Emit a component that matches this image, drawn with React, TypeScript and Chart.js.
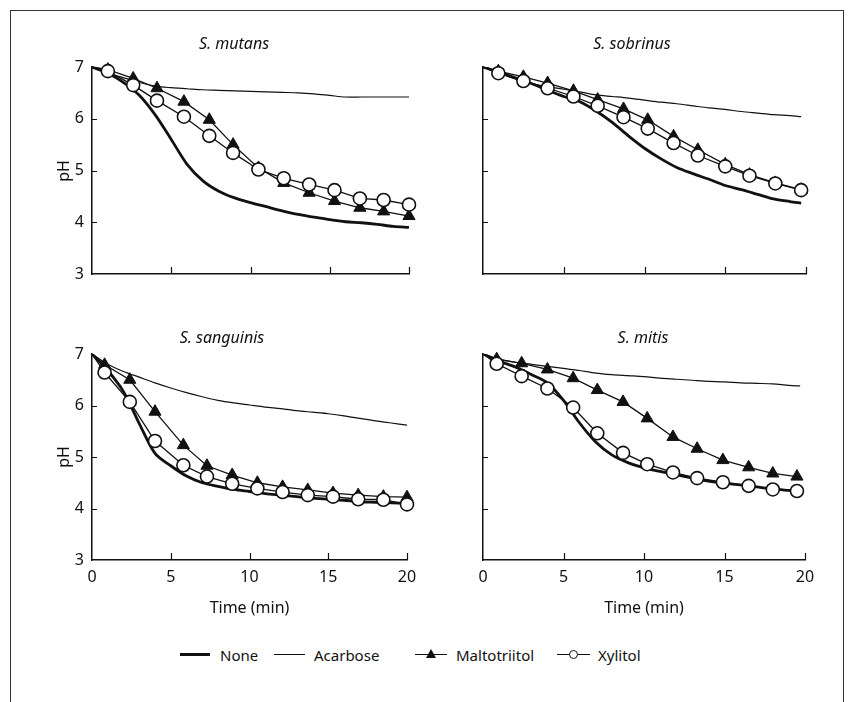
import React, { useEffect, useRef } from 'react';
import { Chart, registerables } from 'chart.js';

Chart.register(...registerables);

// ---------- data ----------
const lineTimeLeft = [0, 1, 2, 3, 4, 5, 6, 7, 8, 9, 10, 11, 12, 13, 14, 15, 16, 17, 18, 19, 20];
const lineTimeRight = [0, 1, 2, 3, 4, 5, 6, 7, 8, 9, 10, 11, 12, 13, 14, 15, 16, 17, 18, 19, 19.7];

const xTickValues = [5, 10, 15, 20];
const yTickValues = [4, 5, 6];

const seriesNames = ['None', 'Acarbose', 'Maltotriitol', 'Xylitol'];

// S. mutans
const mutansMarkerTime = [0, 1.0, 2.6, 4.1, 5.8, 7.4, 8.9, 10.5, 12.1, 13.7, 15.3, 16.9, 18.4, 20.0];
const mutansXylitol = [7, 6.92, 6.65, 6.35, 6.04, 5.67, 5.34, 5.02, 4.85, 4.73, 4.62, 4.46, 4.43, 4.34];
const mutansMaltotriitol = [7, 6.95, 6.78, 6.59, 6.33, 5.98, 5.5, 5.05, 4.76, 4.57, 4.41, 4.28, 4.21, 4.12];
const mutansNone = [7.0, 6.88, 6.7, 6.45, 6.07, 5.6, 5.12, 4.8, 4.6, 4.47, 4.38, 4.3, 4.22, 4.15, 4.1, 4.05, 4.01, 3.99, 3.96, 3.92, 3.9];
const mutansAcarbose = [7.0, 6.88, 6.79, 6.7, 6.63, 6.6, 6.58, 6.56, 6.55, 6.54, 6.53, 6.52, 6.51, 6.5, 6.48, 6.45, 6.42, 6.42, 6.42, 6.42, 6.42];

// S. sobrinus
const sobrinusMarkerTime = [0, 0.95, 2.5, 4.0, 5.6, 7.1, 8.7, 10.2, 11.8, 13.3, 15.0, 16.5, 18.1, 19.7];
const sobrinusXylitol = [7, 6.88, 6.73, 6.59, 6.43, 6.25, 6.03, 5.81, 5.53, 5.29, 5.08, 4.9, 4.75, 4.62];
const sobrinusMaltotriitol = [7, 6.92, 6.81, 6.69, 6.54, 6.37, 6.19, 5.98, 5.66, 5.4, 5.12, 4.92, 4.76, 4.63];
const sobrinusNone = [7, 6.9, 6.79, 6.68, 6.55, 6.43, 6.33, 6.15, 5.93, 5.67, 5.43, 5.23, 5.06, 4.94, 4.83, 4.71, 4.63, 4.54, 4.45, 4.4, 4.37];
const sobrinusAcarbose = [7, 6.88, 6.77, 6.68, 6.62, 6.57, 6.52, 6.46, 6.43, 6.4, 6.36, 6.32, 6.29, 6.25, 6.21, 6.18, 6.14, 6.11, 6.08, 6.06, 6.04];

// S. sanguinis
const sanguinisMarkerTime = [0, 0.8, 2.4, 4.0, 5.8, 7.3, 8.9, 10.5, 12.1, 13.7, 15.3, 16.9, 18.5, 20.0];
const sanguinisXylitol = [7, 6.64, 6.07, 5.31, 4.84, 4.62, 4.48, 4.39, 4.32, 4.26, 4.23, 4.18, 4.17, 4.08];
const sanguinisMaltotriitol = [7, 6.79, 6.5, 5.88, 5.23, 4.83, 4.65, 4.5, 4.42, 4.36, 4.3, 4.26, 4.23, 4.22];
const sanguinisNone = [7, 6.68, 6.27, 5.65, 5.07, 4.83, 4.63, 4.5, 4.43, 4.37, 4.33, 4.29, 4.26, 4.23, 4.2, 4.18, 4.16, 4.13, 4.12, 4.11, 4.1];
const sanguinisAcarbose = [7, 6.8, 6.66, 6.55, 6.44, 6.34, 6.25, 6.17, 6.1, 6.05, 6.01, 5.97, 5.94, 5.9, 5.87, 5.84, 5.8, 5.75, 5.7, 5.66, 5.62];

// S. mitis
const mitisMarkerTime = [0, 0.85, 2.4, 4.0, 5.6, 7.1, 8.7, 10.2, 11.8, 13.3, 14.9, 16.5, 18.0, 19.5];
const mitisXylitol = [7, 6.81, 6.57, 6.33, 5.96, 5.46, 5.08, 4.86, 4.7, 4.59, 4.51, 4.44, 4.37, 4.34];
const mitisMaltotriitol = [7, 6.9, 6.82, 6.7, 6.53, 6.3, 6.07, 5.75, 5.39, 5.16, 4.94, 4.8, 4.68, 4.62];
const mitisNone = [7, 6.86, 6.75, 6.6, 6.44, 6.1, 5.66, 5.29, 5.04, 4.89, 4.79, 4.72, 4.66, 4.59, 4.53, 4.49, 4.46, 4.42, 4.38, 4.35, 4.33];
const mitisAcarbose = [7, 6.9, 6.84, 6.8, 6.76, 6.72, 6.68, 6.63, 6.6, 6.58, 6.56, 6.53, 6.51, 6.49, 6.47, 6.46, 6.44, 6.43, 6.42, 6.39, 6.38];

// ---------- layout ----------
const FONT = '"Noto Sans", "Open Sans", sans-serif';
const INK = '#111';
const Y_AXIS_W = 52;
const X_AXIS_H = 40;
const PAD_TOP = 20;
const PAD_RIGHT = 20;

type Panel = {
  title: string;
  titleX: number;
  titleY: number;
  left: number;
  top: number;
  right: number;
  bottom: number;
  showX: boolean;
  showY: boolean;
  markerTime: number[];
  lineTime: number[];
  none: number[];
  acarbose: number[];
  maltotriitol: number[];
  xylitol: number[];
};

const panels: Panel[] = [
  { title: 'S. mutans', titleX: 234, titleY: 43, left: 92, top: 67, right: 409, bottom: 274, showX: false, showY: true,
    markerTime: mutansMarkerTime, lineTime: lineTimeLeft, none: mutansNone, acarbose: mutansAcarbose, maltotriitol: mutansMaltotriitol, xylitol: mutansXylitol },
  { title: 'S. sobrinus', titleX: 632, titleY: 43, left: 483, top: 67, right: 806, bottom: 274, showX: false, showY: false,
    markerTime: sobrinusMarkerTime, lineTime: lineTimeRight, none: sobrinusNone, acarbose: sobrinusAcarbose, maltotriitol: sobrinusMaltotriitol, xylitol: sobrinusXylitol },
  { title: 'S. sanguinis', titleX: 222, titleY: 337, left: 92, top: 354, right: 407, bottom: 560, showX: true, showY: true,
    markerTime: sanguinisMarkerTime, lineTime: lineTimeLeft, none: sanguinisNone, acarbose: sanguinisAcarbose, maltotriitol: sanguinisMaltotriitol, xylitol: sanguinisXylitol },
  { title: 'S. mitis', titleX: 643, titleY: 337, left: 483, top: 354, right: 805, bottom: 560, showX: true, showY: false,
    markerTime: mitisMarkerTime, lineTime: lineTimeRight, none: mitisNone, acarbose: mitisAcarbose, maltotriitol: mitisMaltotriitol, xylitol: mitisXylitol },
];

const inwardTicks = {
  id: 'inwardTicks',
  afterDraw(chart: any) {
    const { ctx, chartArea, scales } = chart;
    ctx.save();
    ctx.strokeStyle = INK;
    ctx.lineWidth = 1.2;
    ctx.beginPath();
    xTickValues.forEach((v) => {
      const px = Math.round(scales.x.getPixelForValue(v)) + 0.5;
      ctx.moveTo(px, chartArea.bottom);
      ctx.lineTo(px, chartArea.bottom - 7);
    });
    yTickValues.forEach((v) => {
      const py = Math.round(scales.y.getPixelForValue(v)) + 0.5;
      ctx.moveTo(chartArea.left, py);
      ctx.lineTo(chartArea.left + 5, py);
    });
    ctx.stroke();
    ctx.restore();
  },
};

function toPoints(xs: number[], ys: number[]) {
  return xs.map((x, i) => ({ x, y: ys[i] }));
}

function PanelChart({ p }: { p: Panel }) {
  const ref = useRef<HTMLCanvasElement | null>(null);
  const w = p.right - p.left + Y_AXIS_W + PAD_RIGHT;
  const h = p.bottom - p.top + PAD_TOP + X_AXIS_H;
  useEffect(() => {
    if (!ref.current) return;
    const hideFirst = (r: number) => (ctx: any) => (ctx.dataIndex === 0 ? 0 : r);
    const chart = new Chart(ref.current, {
      type: 'line',
      data: {
        datasets: [
          {
            label: seriesNames[3],
            data: toPoints(p.markerTime, p.xylitol),
            borderColor: INK,
            borderWidth: 1.3,
            pointStyle: 'circle',
            pointRadius: hideFirst(6.5),
            pointBackgroundColor: '#fff',
            pointBorderColor: INK,
            pointBorderWidth: 1.6,
            tension: 0,
            clip: false,
          },
          {
            label: seriesNames[2],
            data: toPoints(p.markerTime, p.maltotriitol),
            borderColor: INK,
            borderWidth: 1.3,
            pointStyle: 'triangle',
            pointRadius: hideFirst(7),
            pointBackgroundColor: INK,
            pointBorderColor: INK,
            pointBorderWidth: 1,
            tension: 0,
            clip: false,
          },
          {
            label: seriesNames[1],
            data: toPoints(p.lineTime, p.acarbose),
            borderColor: INK,
            borderWidth: 1.2,
            pointRadius: 0,
            tension: 0.3,
          },
          {
            label: seriesNames[0],
            data: toPoints(p.lineTime, p.none),
            borderColor: INK,
            borderWidth: 2.8,
            pointRadius: 0,
            tension: 0.3,
          },
        ],
      } as any,
      options: {
        animation: false,
        responsive: false,
        maintainAspectRatio: false,
        events: [],
        layout: { padding: { top: PAD_TOP, right: PAD_RIGHT, left: 0, bottom: 0 } },
        plugins: { legend: { display: false }, tooltip: { enabled: false }, title: { display: false } },
        scales: {
          x: {
            type: 'linear',
            min: 0,
            max: 20,
            ticks: { stepSize: 5, display: p.showX, color: INK, padding: 8, maxRotation: 0, font: { family: FONT, size: 16 } },
            grid: { display: false, drawTicks: false },
            border: { display: true, color: INK, width: 1.5 },
            afterFit: (s: any) => { s.height = X_AXIS_H; },
          },
          y: {
            type: 'linear',
            min: 3,
            max: 7,
            ticks: { stepSize: 1, display: p.showY, color: INK, padding: 8, font: { family: FONT, size: 16 } },
            grid: { display: false, drawTicks: false },
            border: { display: true, color: INK, width: 1.5 },
            afterFit: (s: any) => { s.width = Y_AXIS_W; },
          },
        },
      } as any,
      plugins: [inwardTicks],
    });
    return () => chart.destroy();
  }, [p]);
  return (
    <canvas
      ref={ref}
      width={w}
      height={h}
      style={{ position: 'absolute', left: p.left - Y_AXIS_W, top: p.top - PAD_TOP, width: w, height: h, display: 'block' }}
    />
  );
}

const textBase: React.CSSProperties = { position: 'absolute', fontFamily: FONT, color: INK, whiteSpace: 'nowrap', lineHeight: 1 };

export default function App() {
  return (
    <div style={{ position: 'absolute', left: 0, top: 0, width: 848, height: 702, background: '#fff', overflow: 'hidden' }}>
      <div style={{ position: 'absolute', left: 10, top: 10, width: 834, height: 720, border: '1.5px solid #333', boxSizing: 'border-box' }} />
      {panels.map((p, i) => (
        <PanelChart key={i} p={p} />
      ))}
      {panels.map((p, i) => (
        <div key={'t' + i} style={{ ...textBase, left: p.titleX, top: p.titleY, transform: 'translate(-50%, -50%)', fontSize: 16, fontStyle: 'italic' }}>
          {p.title}
        </div>
      ))}
      {panels.filter((p) => p.showY).map((p, i) => (
        <div key={'y' + i} style={{ ...textBase, left: 63, top: (p.top + p.bottom) / 2, transform: 'translate(-50%, -50%) rotate(-90deg)', fontSize: 16 }}>
          pH
        </div>
      ))}
      {panels.filter((p) => p.showX).map((p, i) => (
        <div key={'x' + i} style={{ ...textBase, left: (p.left + p.right) / 2, top: 607, transform: 'translate(-50%, -50%)', fontSize: 16 }}>
          Time (min)
        </div>
      ))}
      {/* legend */}
      <div style={{ position: 'absolute', left: 180, top: 653, width: 30, height: 3, background: INK }} />
      <div style={{ ...textBase, left: 220, top: 655, transform: 'translateY(-50%)', fontSize: 15 }}>{seriesNames[0]}</div>
      <div style={{ position: 'absolute', left: 274, top: 654, width: 31, height: 1.2, background: INK }} />
      <div style={{ ...textBase, left: 314, top: 655, transform: 'translateY(-50%)', fontSize: 15 }}>{seriesNames[1]}</div>
      <div style={{ position: 'absolute', left: 415, top: 654, width: 32, height: 1.3, background: INK }} />
      <div style={{ position: 'absolute', left: 426, top: 649, width: 0, height: 0, borderLeft: '5px solid transparent', borderRight: '5px solid transparent', borderBottom: '9px solid ' + INK }} />
      <div style={{ ...textBase, left: 456, top: 655, transform: 'translateY(-50%)', fontSize: 15 }}>{seriesNames[2]}</div>
      <div style={{ position: 'absolute', left: 557, top: 654, width: 33, height: 1.3, background: INK }} />
      <div style={{ position: 'absolute', left: 568.5, top: 650, width: 9, height: 9, borderRadius: '50%', border: '1.3px solid ' + INK, background: '#fff', boxSizing: 'border-box' }} />
      <div style={{ ...textBase, left: 598, top: 655, transform: 'translateY(-50%)', fontSize: 15 }}>{seriesNames[3]}</div>
    </div>
  );
}
